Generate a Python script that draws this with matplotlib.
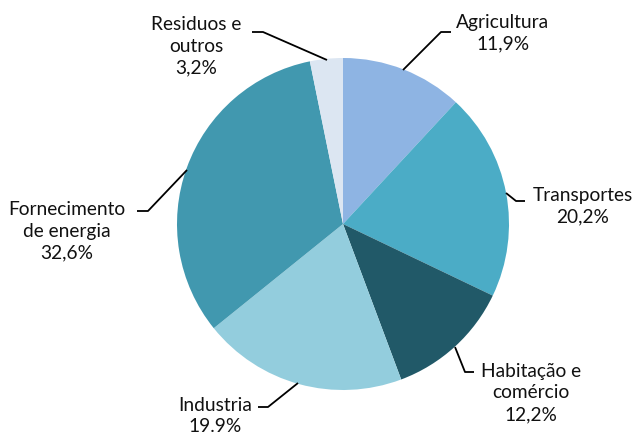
import matplotlib
matplotlib.use("Agg")
import matplotlib.pyplot as plt

labels = ["Agricultura", "Transportes", "Habitação e\ncomércio", "Industria",
          "Fornecimento\nde energia", "Residuos e\noutros"]
values = [11.9, 20.2, 12.2, 19.9, 32.6, 3.2]
value_text = ["11,9%", "20,2%", "12,2%", "19.9%", "32,6%", "3,2%"]
colors = ["#8EB4E3", "#4BACC6", "#215968", "#93CDDD", "#4198AF", "#DCE6F2"]

W, H = 638, 434
fig = plt.figure(figsize=(W / 100, H / 100), dpi=100)
ax = fig.add_axes([0, 0, 1, 1])

cx, cy, r = 343, H - 224, 166
ax.pie(values, colors=colors, startangle=90, counterclock=False,
       center=(cx, cy), radius=r, frame=True,
       wedgeprops=dict(linewidth=0))
ax.set_xlim(0, W)
ax.set_ylim(0, H)
ax.set_aspect("equal")
ax.axis("off")

# label layout (pixel coords, y from top): text center, leader polyline
layout = [
    dict(t=(503, 33), line=[(403, 70), (441, 32), (451, 32)]),
    dict(t=(583, 206), line=[(506, 193), (516, 201), (525, 201)]),
    dict(t=(531, 393), line=[(455, 347), (465, 372), (474, 372)]),
    dict(t=(215, 416), line=[(298, 383), (268, 407), (258, 407)]),
    dict(t=(67, 231), line=[(187, 170), (148, 211), (137, 211)]),
    dict(t=(196, 46), line=[(327, 60), (263, 32), (252, 32)]),
]

font = ["Lato", "DejaVu Sans"]
for lab, vt, lay in zip(labels, value_text, layout):
    xs = [p[0] for p in lay["line"]]
    ys = [H - p[1] for p in lay["line"]]
    ax.plot(xs, ys, color="black", lw=1.3, solid_capstyle="butt")
    tx, ty = lay["t"]
    ax.text(tx, H - ty, lab + "\n" + vt, ha="center", va="center",
            fontsize=13.8, family=font, linespacing=1.32, color="#111111")

fig.savefig("out.png", dpi=100)
